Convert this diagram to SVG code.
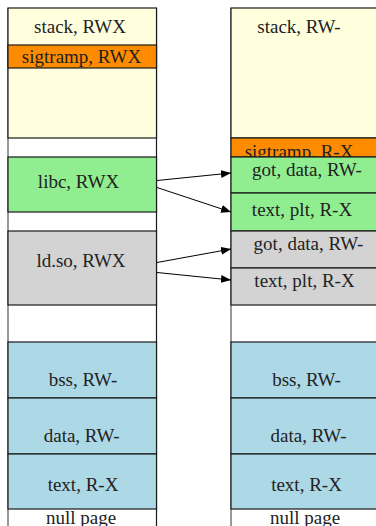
<svg xmlns="http://www.w3.org/2000/svg" width="376" height="526" viewBox="0 0 376 526">
  <style>
    .box { stroke: #1a1a1a; stroke-width: 1.2; }
    .stack { fill: #ffffde; }
    .sig { fill: #ff8c00; }
    .lib { fill: #90ee90; }
    .ld { fill: #d3d3d3; }
    .prog { fill: #add8e6; }
    .gap { fill: #ffffff; stroke: none; }
    .frame { stroke: #777; stroke-width: 1.5; fill: none; }
    .edge { stroke: #1a1a1a; stroke-width: 1.2; fill: none; }
    text { font-family: "Liberation Serif", "DejaVu Serif", serif; font-size: 19px; fill: #222; text-anchor: middle; }
    .conn { stroke: #000; stroke-width: 1; fill: none; marker-end: url(#arrow); }
  </style>
  <defs>
    <marker id="arrow" viewBox="0 0 10 8" refX="10" refY="4" markerWidth="10" markerHeight="8" markerUnits="userSpaceOnUse" orient="auto">
      <path d="M0,0 L10,4 L0,8 z" fill="#000"/>
    </marker>
  </defs>

  <!-- address space before: left column -->
  <g id="left-column">
    <rect class="gap" x="8" y="8" width="149" height="520"/>
    <line class="frame" x1="8" y1="8" x2="8" y2="526"/>
    <line class="edge" x1="156.5" y1="8" x2="156.5" y2="526"/>
  </g>
  <g id="left-stack">
    <rect class="box stack" x="8" y="8" width="148.5" height="130"/>
    <text x="80" y="33">stack, RWX</text>
  </g>
  <g id="left-sigtramp">
    <rect class="box sig" x="8" y="45" width="148.5" height="23"/>
    <text x="81.5" y="62.5">sigtramp, RWX</text>
  </g>
  <g id="left-libc">
    <rect class="box lib" x="8" y="157" width="148.5" height="55"/>
    <text x="78.5" y="188">libc, RWX</text>
  </g>
  <g id="left-ldso">
    <rect class="box ld" x="8" y="231" width="148.5" height="74"/>
    <text x="81" y="267">ld.so, RWX</text>
  </g>
  <g id="left-bss">
    <rect class="box prog" x="8" y="342" width="148.5" height="56"/>
    <text x="83" y="386">bss, RW-</text>
  </g>
  <g id="left-data">
    <rect class="box prog" x="8" y="398" width="148.5" height="56"/>
    <text x="81.7" y="441.5">data, RW-</text>
  </g>
  <g id="left-text">
    <rect class="box prog" x="8" y="454" width="148.5" height="55"/>
    <text x="83" y="491">text, R-X</text>
  </g>
  <g id="left-null">
    <text x="81" y="524">null page</text>
  </g>

  <!-- address space after: right column -->
  <g id="right-column">
    <rect class="gap" x="231" y="8" width="150" height="520"/>
    <line class="frame" x1="231" y1="8" x2="231" y2="526"/>
  </g>
  <g id="right-stack">
    <rect class="box stack" x="231" y="8" width="152" height="130"/>
    <text x="299" y="33">stack, RW-</text>
  </g>
  <g id="right-sigtramp">
    <rect class="box sig" x="231" y="138" width="152" height="19"/>
    <text x="299" y="158">sigtramp, R-X</text>
  </g>
  <g id="right-libc-data">
    <rect class="box lib" x="231" y="157" width="152" height="36"/>
    <text x="307" y="175.5">got, data, RW-</text>
  </g>
  <g id="right-libc-text">
    <rect class="box lib" x="231" y="193" width="152" height="38"/>
    <text x="302" y="216">text, plt, R-X</text>
  </g>
  <g id="right-ldso-data">
    <rect class="box ld" x="231" y="231" width="152" height="37"/>
    <text x="308.5" y="250">got, data, RW-</text>
  </g>
  <g id="right-ldso-text">
    <rect class="box ld" x="231" y="268" width="152" height="37"/>
    <text x="304.5" y="286.5">text, plt, R-X</text>
  </g>
  <g id="right-bss">
    <rect class="box prog" x="231" y="342" width="152" height="56"/>
    <text x="306.5" y="386">bss, RW-</text>
  </g>
  <g id="right-data">
    <rect class="box prog" x="231" y="398" width="152" height="56"/>
    <text x="308.5" y="441.5">data, RW-</text>
  </g>
  <g id="right-text">
    <rect class="box prog" x="231" y="454" width="152" height="55"/>
    <text x="306.5" y="491">text, R-X</text>
  </g>
  <g id="right-null">
    <text x="305" y="524">null page</text>
  </g>

  <g id="connectors">
    <line class="conn" x1="157" y1="180.5" x2="231" y2="173"/>
    <line class="conn" x1="157" y1="187.5" x2="231" y2="212"/>
    <line class="conn" x1="157" y1="262.5" x2="231" y2="249"/>
    <line class="conn" x1="157" y1="272.5" x2="231" y2="280"/>
  </g>
</svg>
